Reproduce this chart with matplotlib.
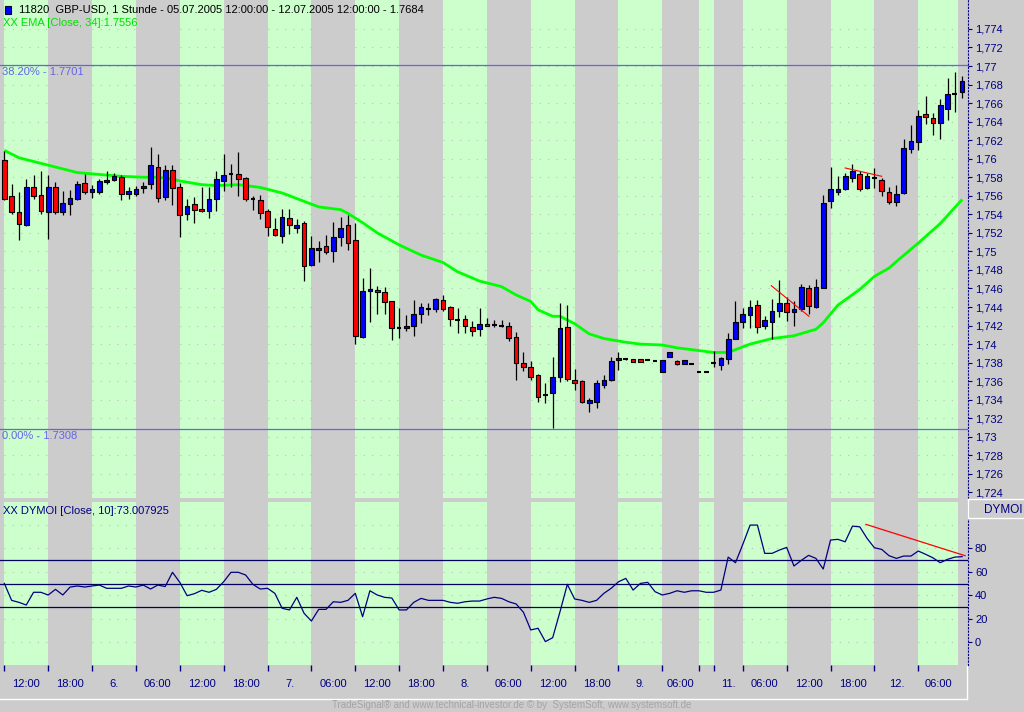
import matplotlib
matplotlib.use('Agg')
import matplotlib.pyplot as plt
from matplotlib.lines import Line2D
from matplotlib.patches import Rectangle
import numpy as np

# hourly GBP-USD candles, 05.07.2005 12:00 - 12.07.2005 12:00
opens = [1.7599, 1.7560, 1.7543, 1.7529, 1.7569, 1.7561, 1.7543, 1.7569, 1.7542, 1.7551,
         1.7557, 1.7574, 1.7564, 1.7564, 1.7575, 1.7577, 1.7580, 1.7562, 1.7562, 1.7568,
         1.7573, 1.7591, 1.7559, 1.7588, 1.7570, 1.7540, 1.7551, 1.7546, 1.7544, 1.7557,
         1.7576, 1.7584, 1.7583, 1.7579, 1.7556, 1.7555, 1.7544, 1.7524, 1.7517, 1.7536,
         1.7525, 1.7531, 1.7485, 1.7501, 1.7506, 1.7500, 1.7516, 1.7528, 1.7512, 1.7408,
         1.7457, 1.7458, 1.7456, 1.7446, 1.7417, 1.7417, 1.7420, 1.7432, 1.7438, 1.7438,
         1.7448, 1.7440, 1.7426, 1.7427, 1.7418, 1.7416, 1.7422, 1.7421, 1.7420, 1.7420,
         1.7408, 1.7380, 1.7375, 1.7367, 1.7345, 1.7347, 1.7364, 1.7418, 1.7361, 1.7360,
         1.7336, 1.7338, 1.7356, 1.7361, 1.7383, 1.7384, 1.7384, 1.7384, 1.7383, 1.7382,
         1.7370, 1.7386, 1.7382, 1.7378, 1.7379, 1.7370, 1.7370, 1.7380, 1.7377, 1.7384,
         1.7406, 1.7424, 1.7431, 1.7442, 1.7420, 1.7424, 1.7436, 1.7444, 1.7435, 1.7438,
         1.7461, 1.7440, 1.7461, 1.7554, 1.7564, 1.7567, 1.7579, 1.7584, 1.7568, 1.7579,
         1.7577, 1.7564, 1.7553, 1.7563, 1.7611, 1.7618, 1.7648, 1.7644, 1.7638, 1.7654,
         1.7670, 1.7672]
highs = [1.7608, 1.7573, 1.7564, 1.7578, 1.7582, 1.7587, 1.7582, 1.7575, 1.7565, 1.7566,
         1.7576, 1.7583, 1.7572, 1.7578, 1.7587, 1.7585, 1.7582, 1.7570, 1.7571, 1.7575,
         1.7613, 1.7605, 1.7593, 1.7593, 1.7574, 1.7557, 1.7559, 1.7569, 1.7569, 1.7587,
         1.7605, 1.7594, 1.7607, 1.7580, 1.7560, 1.7561, 1.7546, 1.7536, 1.7546, 1.7546,
         1.7535, 1.7533, 1.7517, 1.7511, 1.7518, 1.7532, 1.7537, 1.7539, 1.7531, 1.7471,
         1.7482, 1.7463, 1.7462, 1.7447, 1.7439, 1.7431, 1.7448, 1.7444, 1.7444, 1.7450,
         1.7453, 1.7441, 1.7439, 1.7431, 1.7425, 1.7439, 1.7428, 1.7426, 1.7426, 1.7424,
         1.7413, 1.7391, 1.7382, 1.7368, 1.7358, 1.7386, 1.7444, 1.7442, 1.7373, 1.7361,
         1.7342, 1.7361, 1.7367, 1.7386, 1.7391, 1.7385, 1.7384, 1.7384, 1.7383, 1.7382,
         1.7383, 1.7391, 1.7383, 1.7383, 1.7380, 1.7370, 1.7370, 1.7393, 1.7386, 1.7412,
         1.7447, 1.7439, 1.7448, 1.7448, 1.7430, 1.7449, 1.7469, 1.7451, 1.7446, 1.7465,
         1.7464, 1.7470, 1.7561, 1.7591, 1.7581, 1.7585, 1.7594, 1.7587, 1.7585, 1.7590,
         1.7579, 1.7569, 1.7572, 1.7621, 1.7636, 1.7652, 1.7668, 1.7649, 1.7664, 1.7687,
         1.7693, 1.7689]
lows = [1.7555, 1.7540, 1.7512, 1.7527, 1.7557, 1.7540, 1.7513, 1.7540, 1.7539, 1.7539,
        1.7555, 1.7562, 1.7558, 1.7562, 1.7573, 1.7576, 1.7555, 1.7556, 1.7560, 1.7563,
        1.7567, 1.7553, 1.7555, 1.7550, 1.7516, 1.7534, 1.7531, 1.7542, 1.7536, 1.7544,
        1.7565, 1.7570, 1.7560, 1.7554, 1.7545, 1.7535, 1.7517, 1.7517, 1.7509, 1.7519,
        1.7520, 1.7468, 1.7484, 1.7489, 1.7497, 1.7489, 1.7506, 1.7502, 1.7400, 1.7407,
        1.7424, 1.7433, 1.7433, 1.7404, 1.7407, 1.7414, 1.7409, 1.7423, 1.7431, 1.7435,
        1.7436, 1.7419, 1.7412, 1.7412, 1.7409, 1.7409, 1.7419, 1.7418, 1.7418, 1.7403,
        1.7361, 1.7371, 1.7361, 1.7338, 1.7336, 1.7310, 1.7359, 1.7360, 1.7350, 1.7336,
        1.7327, 1.7331, 1.7353, 1.7360, 1.7372, 1.7383, 1.7381, 1.7381, 1.7383, 1.7382,
        1.7370, 1.7386, 1.7377, 1.7378, 1.7378, 1.7370, 1.7370, 1.7375, 1.7372, 1.7379,
        1.7405, 1.7417, 1.7417, 1.7412, 1.7416, 1.7406, 1.7429, 1.7425, 1.7419, 1.7436,
        1.7433, 1.7439, 1.7460, 1.7547, 1.7561, 1.7566, 1.7575, 1.7565, 1.7567, 1.7568,
        1.7560, 1.7551, 1.7549, 1.7562, 1.7606, 1.7609, 1.7637, 1.7626, 1.7621, 1.7642,
        1.7650, 1.7666]
closes = [1.7557, 1.7543, 1.7530, 1.7569, 1.7560, 1.7544, 1.7569, 1.7542, 1.7552, 1.7558,
          1.7573, 1.7564, 1.7567, 1.7576, 1.7577, 1.7581, 1.7562, 1.7565, 1.7567, 1.7571,
          1.7593, 1.7558, 1.7588, 1.7568, 1.7539, 1.7549, 1.7545, 1.7544, 1.7557, 1.7578,
          1.7582, 1.7584, 1.7578, 1.7556, 1.7556, 1.7541, 1.7526, 1.7518, 1.7537, 1.7528,
          1.7529, 1.7484, 1.7504, 1.7504, 1.7499, 1.7516, 1.7525, 1.7509, 1.7409, 1.7457,
          1.7459, 1.7456, 1.7445, 1.7417, 1.7417, 1.7420, 1.7432, 1.7440, 1.7438, 1.7449,
          1.7438, 1.7427, 1.7426, 1.7419, 1.7414, 1.7422, 1.7420, 1.7421, 1.7420, 1.7407,
          1.7380, 1.7375, 1.7364, 1.7343, 1.7345, 1.7364, 1.7417, 1.7362, 1.7358, 1.7337,
          1.7340, 1.7358, 1.7361, 1.7382, 1.7385, 1.7384, 1.7381, 1.7381, 1.7383, 1.7382,
          1.7383, 1.7391, 1.7379, 1.7383, 1.7379, 1.7370, 1.7370, 1.7380, 1.7385, 1.7405,
          1.7424, 1.7433, 1.7440, 1.7418, 1.7426, 1.7436, 1.7444, 1.7435, 1.7438, 1.7462,
          1.7441, 1.7462, 1.7552, 1.7567, 1.7567, 1.7581, 1.7587, 1.7567, 1.7581, 1.7579,
          1.7565, 1.7553, 1.7562, 1.7612, 1.7619, 1.7646, 1.7645, 1.7638, 1.7658, 1.7670,
          1.7670, 1.7684]

# EMA(34) at selected bars
ema_bars = [0, 2, 5, 8, 10, 13, 16, 19, 21, 23, 24, 27, 29, 32, 35, 38, 40, 43, 46, 47,
            49, 51, 54, 57, 60, 62, 65, 68, 70, 72, 73, 75, 76, 78, 80, 82, 85, 87, 90, 92,
            95, 97, 99, 100, 102, 105, 108, 111, 112, 114, 117, 119, 121, 122, 125, 128, 131]
ema_vals = [1.7609, 1.7601, 1.7595, 1.7589, 1.7585, 1.7583, 1.7581, 1.7580, 1.7580, 1.7578,
            1.7576, 1.7572, 1.7571, 1.7572, 1.7569, 1.7563, 1.7557, 1.7548, 1.7545, 1.7541,
            1.7531, 1.7520, 1.7507, 1.7496, 1.7488, 1.7478, 1.7468, 1.7462, 1.7453, 1.7446,
            1.7437, 1.7430, 1.7430, 1.7422, 1.7411, 1.7406, 1.7402, 1.7400, 1.7399, 1.7396,
            1.7393, 1.7391, 1.7391, 1.7394, 1.7400, 1.7406, 1.7409, 1.7416, 1.7423, 1.7442,
            1.7459, 1.7473, 1.7482, 1.7489, 1.7509, 1.7530, 1.7556]

# DYMOI(10) per bar
dymoi = [50.1, 35.6, 33.9, 31.6, 42.5, 42.5, 40.2, 45.0, 40.2, 47.0,
         47.9, 47.0, 47.9, 48.7, 45.9, 45.9, 45.9, 47.9, 47.0, 48.7,
         45.3, 48.7, 47.4, 59.6, 51.0, 39.6, 41.3, 44.2, 42.5, 45.0,
         51.5, 59.6, 59.6, 57.3, 49.3, 45.3, 45.9, 41.6, 28.8, 27.4,
         38.2, 24.5, 17.9, 27.9, 27.9, 34.4, 33.9, 35.6, 41.6, 21.6,
         43.8, 40.2, 38.2, 37.6, 27.4, 27.4, 33.9, 37.3, 35.6, 35.6,
         35.6, 33.9, 33.1, 34.4, 35.0, 35.0, 36.8, 38.2, 37.3, 34.4,
         32.5, 25.4, 10.3, 11.7, 0.3, 3.7, 25.9, 49.3, 36.8, 35.6,
         33.9, 35.6, 41.6, 45.9, 51.5, 54.4, 44.4, 50.1, 51.0, 43.0,
         40.2, 41.6, 43.8, 42.5, 43.8, 43.8, 42.5, 42.5, 44.4, 72.6,
         67.8, 83.5, 100.0, 100.0, 75.8, 75.8, 78.6, 80.9, 65.0, 69.8,
         74.1, 71.5, 62.4, 87.2, 87.8, 85.7, 99.1, 98.5, 88.6, 80.6,
         79.2, 73.8, 71.5, 73.5, 73.5, 77.8, 75.0, 72.0, 67.8, 70.7,
         72.6, 73.0]
dymoi_levels = [70, 50, 30]

fib_levels = [1.7701, 1.7308]
fib_labels = ['38.20% - 1.7701', '0.00% - 1.7308']

# drawn trend lines (bar, value)
price_trend1 = ([104.9, 110.05], [1.7463, 1.7430])
price_trend2 = ([115.0, 120.0], [1.7590, 1.7581])
dymoi_trend = ([117.85, 131.4], [100.6, 73.8])

# time axis: 6-hour sessions (length in bars) and labels
period_labels = ['12:00', '18:00', '6.', '06:00', '12:00', '18:00', '7.', '06:00',
                 '12:00', '18:00', '8.', '06:00', '12:00', '18:00', '9.', '06:00',
                 '', '11.', '06:00', '12:00', '18:00', '12.', '06:00']
period_bars = [6] * 15 + [5, 2, 4] + [6] * 4 + [5.5]

price_ticks = [1.724, 1.726, 1.728, 1.730, 1.732, 1.734, 1.736, 1.738, 1.740, 1.742,
               1.744, 1.746, 1.748, 1.750, 1.752, 1.754, 1.756, 1.758, 1.760, 1.762,
               1.764, 1.766, 1.768, 1.770, 1.772, 1.774]
dymoi_ticks = [0, 20, 40, 60, 80]
dymoi_grid = [0, 20, 40, 60, 80, 100]

GREEN = '#ccffcc'
GRAY = '#cccccc'
NAVY = '#000080'
DOTS = '#bcbcbc'
plt.rcParams['font.family'] = ['Liberation Sans', 'DejaVu Sans']

W, H = 1024, 712
fig = plt.figure(figsize=(W / 100, H / 100), dpi=100, facecolor=GRAY)
ax1 = fig.add_axes([0, 1 - 497.7 / H, 968 / W, 497.7 / H])
ax2 = fig.add_axes([0, 1 - 665 / H, 968 / W, (665 - 501.7) / H])

x = np.arange(len(opens))
o = np.array(opens)
h = np.array(highs)
l = np.array(lows)
c = np.array(closes)

edges = np.concatenate([[0], np.cumsum(period_bars)])
green_spans = [(edges[k], edges[k + 1]) for k in range(0, len(period_bars), 2)]
xmin, xmax = -0.59, 131.8

for ax, grid in ((ax1, price_ticks), (ax2, dymoi_grid)):
    ax.set_facecolor(GRAY)
    for a, b in green_spans:
        ax.axvspan(a, b, color=GREEN, lw=0, zorder=0)
        # dotted grid only shows on the green sessions
        ax.hlines(grid, a, b, color=DOTS, lw=0.75, linestyles=(0, (1, 7)), zorder=0.5)
    ax.set_xlim(xmin, xmax)
    for s in ('left', 'top', 'bottom'):
        ax.spines[s].set_visible(False)
    ax.spines['right'].set_color(NAVY)
    ax.spines['right'].set_linestyle((0, (1, 2)))
    ax.spines['right'].set_linewidth(0.8)
    ax.yaxis.tick_right()
    ax.tick_params(axis='y', direction='out', length=3, width=0.8, color=NAVY,
                   pad=2, labelsize=8, labelcolor=NAVY)

# ---- price panel ----
ax1.set_ylim(1.72343, 1.77712)
ax1.set_yticks(price_ticks)
ax1.set_yticklabels([f'{v:.3f}'.rstrip('0').replace('.', ',') for v in price_ticks])
ax1.set_xticks([])

for lv, lab in zip(fib_levels, fib_labels):
    ax1.axhline(lv, color='#6464e6', lw=0.9, zorder=1)
    ax1.annotate(lab, xy=(0.002, lv), xycoords=('axes fraction', 'data'),
                 xytext=(0, -1.5), textcoords='offset points', va='top', ha='left',
                 color='#6464e6', fontsize=8)

ax1.plot(ema_bars, ema_vals, color='#00ff00', lw=2.0, zorder=2, solid_capstyle='butt')

ax1.vlines(x, l, h, color='black', lw=0.9, zorder=3)
bw = 0.64
up = c > o
dn = c < o
eq = c == o
ax1.bar(x[up], c[up] - o[up], bottom=o[up], width=bw, color='#0000ff',
        edgecolor='black', linewidth=0.8, zorder=4)
ax1.bar(x[dn], o[dn] - c[dn], bottom=c[dn], width=bw, color='#ff0000',
        edgecolor='black', linewidth=0.8, zorder=4)
ax1.hlines(o[eq], x[eq] - bw / 2, x[eq] + bw / 2, color='black', lw=1.5, zorder=4)

ax1.plot(*price_trend1, color='#ff0000', lw=0.8, zorder=5)
ax1.plot(*price_trend2, color='#ff0000', lw=0.8, zorder=5)

# ---- DYMOI panel ----
ax2.set_ylim(-19.7, 120)
ax2.set_yticks(dymoi_ticks)
for lv in dymoi_levels:
    ax2.axhline(lv, color='#000060', lw=0.9, zorder=1)
ax2.plot(x, dymoi, color=NAVY, lw=0.9, zorder=3)
ax2.plot(*dymoi_trend, color='#ff0000', lw=0.9, zorder=4)

ax2.set_xticks(edges[:-1])
ax2.set_xticklabels([])
ax2.set_xticks((edges[:-1] + edges[1:]) / 2, minor=True)
ax2.set_xticklabels(period_labels, minor=True)
ax2.tick_params(axis='x', which='major', direction='out', length=4, width=1, color=NAVY)
ax2.tick_params(axis='x', which='minor', length=0, pad=10, labelsize=8, labelcolor=NAVY)

# ---- header texts ----
fig.patches.append(Rectangle((5 / W, 1 - 14 / H), 6 / W, 8 / H, transform=fig.transFigure,
                             facecolor='#0000ff', edgecolor='#000040', lw=0.8))
fig.text(19 / W, 1 - 10 / H,
         '11820  GBP-USD, 1 Stunde - 05.07.2005 12:00:00 - 12.07.2005 12:00:00 - 1.7684',
         fontsize=8, color='black', va='center', ha='left')
fig.text(3 / W, 1 - 23.5 / H, 'XX EMA [Close, 34]:1.7556', fontsize=8,
         color='#00e000', va='center', ha='left')
fig.text(3 / W, 1 - 511 / H, 'XX DYMOI [Close, 10]:73.007925', fontsize=8,
         color=NAVY, va='center', ha='left')
fig.text(1003 / W, 1 - 510 / H, 'DYMOI', fontsize=8.5, color=NAVY, va='center', ha='center')
fig.text(512 / W, 1 - 705.5 / H,
         'TradeSignal\u00ae and www.technical-investor.de \u00a9 by  SystemSoft, www.systemsoft.de',
         fontsize=7, color='#a4a4a4', va='center', ha='center')

# 3D-style white borders
for (x0, y0, x1, y1) in [(0, 699, 967, 699), (967, 666, 967, 699),
                         (968, 499, 1024, 499), (968, 517.5, 1024, 517.5),
                         (968, 499, 968, 517.5)]:
    fig.add_artist(Line2D([x0 / W, x1 / W], [1 - y0 / H, 1 - y1 / H],
                          transform=fig.transFigure, color='white', lw=1))

fig.savefig('out.png', dpi=100, facecolor=GRAY)
